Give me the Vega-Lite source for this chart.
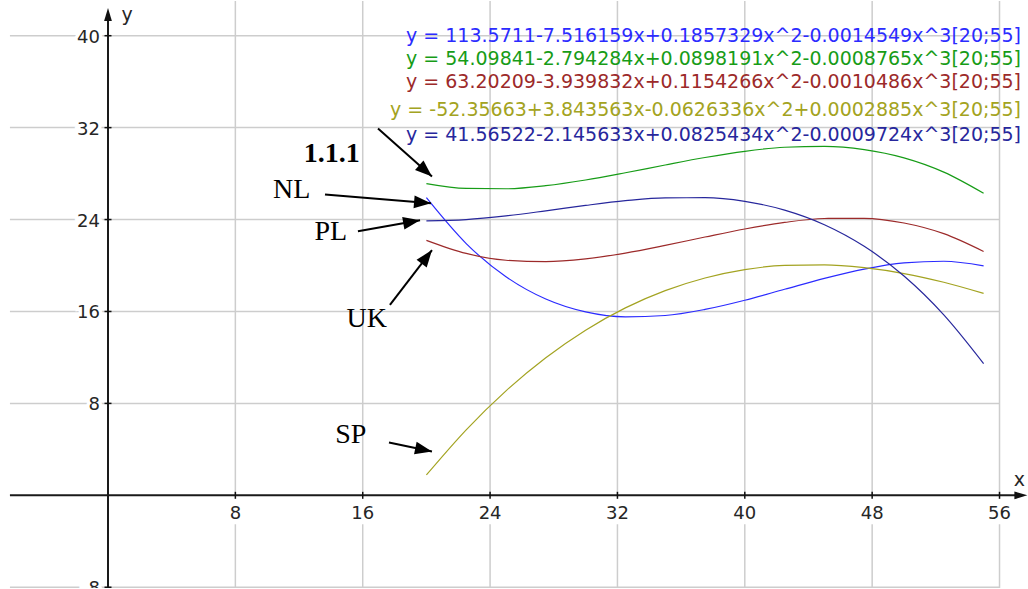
{
  "$schema": "https://vega.github.io/schema/vega-lite/v6.json",
  "width": 1028,
  "height": 589,
  "autosize": {"type": "fit", "contains": "padding"},
  "padding": 0,
  "background": "white",
  "config": {"view": {"stroke": null}},
  "datasets": {
    "curves": [
      {"series": "NL", "x": 20, "y": 25.90}, {"series": "NL", "x": 22.5, "y": 21.91}, {"series": "NL", "x": 25, "y": 19.02}, {"series": "NL", "x": 27.5, "y": 17.08}, {"series": "NL", "x": 30, "y": 15.96}, {"series": "NL", "x": 32.5, "y": 15.53}, {"series": "NL", "x": 35, "y": 15.65}, {"series": "NL", "x": 37.5, "y": 16.18}, {"series": "NL", "x": 40, "y": 16.98}, {"series": "NL", "x": 42.5, "y": 17.93}, {"series": "NL", "x": 45, "y": 18.88}, {"series": "NL", "x": 47.5, "y": 19.69}, {"series": "NL", "x": 50, "y": 20.23}, {"series": "NL", "x": 52.5, "y": 20.37}, {"series": "NL", "x": 55, "y": 19.97},
      {"series": "1.1.1", "x": 20, "y": 27.13}, {"series": "1.1.1", "x": 22.5, "y": 26.71}, {"series": "1.1.1", "x": 25, "y": 26.68}, {"series": "1.1.1", "x": 27.5, "y": 26.95}, {"series": "1.1.1", "x": 30, "y": 27.44}, {"series": "1.1.1", "x": 32.5, "y": 28.07}, {"series": "1.1.1", "x": 35, "y": 28.75}, {"series": "1.1.1", "x": 37.5, "y": 29.40}, {"series": "1.1.1", "x": 40, "y": 29.94}, {"series": "1.1.1", "x": 42.5, "y": 30.29}, {"series": "1.1.1", "x": 45, "y": 30.37}, {"series": "1.1.1", "x": 47.5, "y": 30.09}, {"series": "1.1.1", "x": 50, "y": 29.37}, {"series": "1.1.1", "x": 52.5, "y": 28.13}, {"series": "1.1.1", "x": 55, "y": 26.29},
      {"series": "UK", "x": 20, "y": 22.19}, {"series": "UK", "x": 22.5, "y": 21.05}, {"series": "UK", "x": 25, "y": 20.46}, {"series": "UK", "x": 27.5, "y": 20.34}, {"series": "UK", "x": 30, "y": 20.58}, {"series": "UK", "x": 32.5, "y": 21.08}, {"series": "UK", "x": 35, "y": 21.75}, {"series": "UK", "x": 37.5, "y": 22.48}, {"series": "UK", "x": 40, "y": 23.18}, {"series": "UK", "x": 42.5, "y": 23.75}, {"series": "UK", "x": 45, "y": 24.09}, {"series": "UK", "x": 47.5, "y": 24.11}, {"series": "UK", "x": 50, "y": 23.70}, {"series": "UK", "x": 52.5, "y": 22.77}, {"series": "UK", "x": 55, "y": 21.22},
      {"series": "SP", "x": 20, "y": 1.77}, {"series": "SP", "x": 22.5, "y": 5.70}, {"series": "SP", "x": 25, "y": 9.09}, {"series": "SP", "x": 27.5, "y": 11.97}, {"series": "SP", "x": 30, "y": 14.37}, {"series": "SP", "x": 32.5, "y": 16.31}, {"series": "SP", "x": 35, "y": 17.81}, {"series": "SP", "x": 37.5, "y": 18.91}, {"series": "SP", "x": 40, "y": 19.64}, {"series": "SP", "x": 42.5, "y": 20.01}, {"series": "SP", "x": 45, "y": 20.06}, {"series": "SP", "x": 47.5, "y": 19.81}, {"series": "SP", "x": 50, "y": 19.30}, {"series": "SP", "x": 52.5, "y": 18.54}, {"series": "SP", "x": 55, "y": 17.57},
      {"series": "PL", "x": 20, "y": 23.89}, {"series": "PL", "x": 22.5, "y": 24.00}, {"series": "PL", "x": 25, "y": 24.32}, {"series": "PL", "x": 27.5, "y": 24.76}, {"series": "PL", "x": 30, "y": 25.23}, {"series": "PL", "x": 32.5, "y": 25.64}, {"series": "PL", "x": 35, "y": 25.89}, {"series": "PL", "x": 37.5, "y": 25.90}, {"series": "PL", "x": 40, "y": 25.58}, {"series": "PL", "x": 42.5, "y": 24.82}, {"series": "PL", "x": 45, "y": 23.55}, {"series": "PL", "x": 47.5, "y": 21.67}, {"series": "PL", "x": 50, "y": 19.09}, {"series": "PL", "x": 52.5, "y": 15.71}, {"series": "PL", "x": 55, "y": 11.47}
    ],
    "equations": [
      {"series": "NL", "text": "y = 113.5711-7.516159x+0.1857329x^2-0.0014549x^3[20;55]", "x": 57.35, "y": 40.0},
      {"series": "1.1.1", "text": "y = 54.09841-2.794284x+0.0898191x^2-0.0008765x^3[20;55]", "x": 57.35, "y": 38.0},
      {"series": "UK", "text": "y = 63.20209-3.939832x+0.1154266x^2-0.0010486x^3[20;55]", "x": 57.35, "y": 36.0},
      {"series": "SP", "text": "y = -52.35663+3.843563x-0.0626336x^2+0.0002885x^3[20;55]", "x": 57.35, "y": 33.57},
      {"series": "PL", "text": "y = 41.56522-2.145633x+0.0825434x^2-0.0009724x^3[20;55]", "x": 57.35, "y": 31.32}
    ],
    "notes": [
      {"text": "1.1.1", "x": 14.05, "y": 28.97},
      {"text": "NL", "x": 11.54, "y": 25.85},
      {"text": "PL", "x": 14.0, "y": 22.2},
      {"text": "UK", "x": 16.25, "y": 14.68},
      {"text": "SP", "x": 15.25, "y": 4.57}
    ],
    "arrows": [
      {"name": "1.1.1", "x": 16.96, "y": 31.92, "x2": 20.35, "y2": 27.75},
      {"name": "NL", "x": 13.63, "y": 26.19, "x2": 20.29, "y2": 25.41},
      {"name": "PL", "x": 15.70, "y": 22.98, "x2": 19.60, "y2": 23.94},
      {"name": "UK", "x": 17.71, "y": 16.57, "x2": 20.35, "y2": 21.34},
      {"name": "SP", "x": 17.65, "y": 4.60, "x2": 20.35, "y2": 3.82}
    ],
    "xt": [
      {"x": 8, "y": 0, "lab": "8"}, {"x": 16, "y": 0, "lab": "16"}, {"x": 24, "y": 0, "lab": "24"}, {"x": 32, "y": 0, "lab": "32"}, {"x": 40, "y": 0, "lab": "40"}, {"x": 48, "y": 0, "lab": "48"}, {"x": 56, "y": 0, "lab": "56"}
    ],
    "yt": [
      {"x": 0, "y": -8, "lab": "-8"}, {"x": 0, "y": 8, "lab": "8"}, {"x": 0, "y": 16, "lab": "16"}, {"x": 0, "y": 24, "lab": "24"}, {"x": 0, "y": 32, "lab": "32"}, {"x": 0, "y": 40, "lab": "40"}
    ],
    "origin": [{"x": 0, "y": 0}],
    "axislabels": [
      {"text": "y", "x": 1.2, "y": 41.3},
      {"text": "x", "x": 57.25, "y": 0.8}
    ]
  },
  "encoding": {
    "x": {"field": "x", "type": "quantitative", "scale": {"domain": [-6.784, 57.789], "nice": false, "zero": false}, "axis": null},
    "y": {"field": "y", "type": "quantitative", "scale": {"domain": [-8.066, 43.02], "nice": false, "zero": false}, "axis": null}
  },
  "layer": [
    {
      "data": {"name": "yt"},
      "mark": {"type": "rule", "color": "#cdcdcd", "strokeWidth": 1.5},
      "encoding": {"x": {"datum": -6.16, "type": "quantitative"}, "x2": {"datum": 56}}
    },
    {
      "data": {"name": "xt"},
      "mark": {"type": "rule", "color": "#cdcdcd", "strokeWidth": 1.5},
      "encoding": {"y": {"datum": 0, "type": "quantitative"}, "y2": {"datum": 43.02}}
    },
    {
      "data": {"name": "xt"},
      "mark": {"type": "rule", "color": "#cdcdcd", "strokeWidth": 1.5},
      "encoding": {"y": {"datum": -2.52, "type": "quantitative"}, "y2": {"datum": -8.066}}
    },
    {
      "data": {"name": "yt"},
      "mark": {"type": "text", "clip": true, "align": "right", "baseline": "middle", "dx": -8, "dy": 2, "font": "DejaVu Sans", "fontSize": 18, "stroke": "white", "strokeWidth": 7, "color": "white"},
      "encoding": {"text": {"field": "lab"}}
    },
    {
      "data": {"name": "origin"},
      "mark": {"type": "rule", "color": "#1a1a1a", "strokeWidth": 2},
      "encoding": {"x": {"datum": -6.16, "type": "quantitative"}, "x2": {"datum": 57.4}}
    },
    {
      "data": {"name": "origin"},
      "mark": {"type": "rule", "color": "#1a1a1a", "strokeWidth": 2},
      "encoding": {"y": {"datum": -8.066, "type": "quantitative"}, "y2": {"datum": 42.0}}
    },
    {
      "data": {"name": "origin"},
      "mark": {"type": "point", "shape": "M0,0L0.6,2L-0.6,2Z", "filled": true, "color": "#111111", "size": 169, "opacity": 1, "angle": 0},
      "encoding": {"y": {"datum": 42.41, "type": "quantitative"}}
    },
    {
      "data": {"name": "origin"},
      "mark": {"type": "point", "shape": "M0,0L0.6,2L-0.6,2Z", "filled": true, "color": "#111111", "size": 169, "opacity": 1, "angle": 90},
      "encoding": {"x": {"datum": 57.75, "type": "quantitative"}}
    },
    {
      "data": {"name": "xt"},
      "mark": {"type": "point", "shape": "M0,-1L0,1", "filled": false, "color": "#111111", "strokeWidth": 1.5, "size": 49, "opacity": 1}
    },
    {
      "data": {"name": "yt"},
      "mark": {"type": "point", "clip": true, "shape": "M-1,0L1,0", "filled": false, "color": "#111111", "strokeWidth": 1.5, "size": 49, "opacity": 1}
    },
    {
      "data": {"name": "xt"},
      "mark": {"type": "text", "align": "center", "baseline": "middle", "dy": 19, "font": "DejaVu Sans", "fontSize": 18, "color": "#262626"},
      "encoding": {"text": {"field": "lab"}}
    },
    {
      "data": {"name": "yt"},
      "mark": {"type": "text", "clip": true, "align": "right", "baseline": "middle", "dx": -8, "dy": 2, "font": "DejaVu Sans", "fontSize": 18, "color": "#262626"},
      "encoding": {"text": {"field": "lab"}}
    },
    {
      "data": {"name": "axislabels"},
      "mark": {"type": "text", "align": "center", "baseline": "alphabetic", "font": "DejaVu Sans", "fontSize": 19, "color": "#262626"},
      "encoding": {"text": {"field": "text"}}
    },
    {
      "data": {"name": "curves"},
      "mark": {"type": "line", "strokeWidth": 1.2, "interpolate": "monotone"},
      "encoding": {
        "color": {"field": "series", "type": "nominal", "scale": {"domain": ["NL", "1.1.1", "UK", "SP", "PL"], "range": ["#2b2bff", "#179c17", "#9c2a2a", "#a3a321", "#27279c"]}, "legend": null},
        "detail": {"field": "series"}
      }
    },
    {
      "data": {"name": "equations"},
      "mark": {"type": "text", "align": "right", "baseline": "middle", "font": "DejaVu Sans", "fontSize": 19},
      "encoding": {
        "text": {"field": "text"},
        "color": {"field": "series", "type": "nominal", "legend": null}
      }
    },
    {
      "data": {"name": "notes"},
      "transform": [{"filter": "datum.text !== '1.1.1'"}],
      "mark": {"type": "text", "align": "center", "baseline": "alphabetic", "font": "Liberation Serif", "fontSize": 28, "color": "black"},
      "encoding": {"text": {"field": "text"}}
    },
    {
      "data": {"name": "notes"},
      "transform": [{"filter": "datum.text === '1.1.1'"}],
      "mark": {"type": "text", "align": "center", "baseline": "alphabetic", "font": "Liberation Serif", "fontSize": 28, "fontWeight": "bold", "color": "black"},
      "encoding": {"text": {"field": "text"}}
    },
    {
      "data": {"name": "arrows"},
      "mark": {"type": "rule", "color": "black", "strokeWidth": 2},
      "encoding": {"x2": {"field": "x2"}, "y2": {"field": "y2"}}
    },
    {
      "data": {"name": "arrows"},
      "transform": [{"filter": "datum.name === '1.1.1'"}],
      "mark": {"type": "point", "shape": "M0,0L0.75,2L-0.75,2Z", "filled": true, "color": "black", "opacity": 1, "size": 289, "angle": 131.6},
      "encoding": {"x": {"field": "x2", "type": "quantitative"}, "y": {"field": "y2", "type": "quantitative"}}
    },
    {
      "data": {"name": "arrows"},
      "transform": [{"filter": "datum.name === 'NL'"}],
      "mark": {"type": "point", "shape": "M0,0L0.75,2L-0.75,2Z", "filled": true, "color": "black", "opacity": 1, "size": 289, "angle": 94.9},
      "encoding": {"x": {"field": "x2", "type": "quantitative"}, "y": {"field": "y2", "type": "quantitative"}}
    },
    {
      "data": {"name": "arrows"},
      "transform": [{"filter": "datum.name === 'PL'"}],
      "mark": {"type": "point", "shape": "M0,0L0.75,2L-0.75,2Z", "filled": true, "color": "black", "opacity": 1, "size": 289, "angle": 80},
      "encoding": {"x": {"field": "x2", "type": "quantitative"}, "y": {"field": "y2", "type": "quantitative"}}
    },
    {
      "data": {"name": "arrows"},
      "transform": [{"filter": "datum.name === 'UK'"}],
      "mark": {"type": "point", "shape": "M0,0L0.75,2L-0.75,2Z", "filled": true, "color": "black", "opacity": 1, "size": 289, "angle": 37.4},
      "encoding": {"x": {"field": "x2", "type": "quantitative"}, "y": {"field": "y2", "type": "quantitative"}}
    },
    {
      "data": {"name": "arrows"},
      "transform": [{"filter": "datum.name === 'SP'"}],
      "mark": {"type": "point", "shape": "M0,0L0.75,2L-0.75,2Z", "filled": true, "color": "black", "opacity": 1, "size": 289, "angle": 101.8},
      "encoding": {"x": {"field": "x2", "type": "quantitative"}, "y": {"field": "y2", "type": "quantitative"}}
    }
  ]
}
